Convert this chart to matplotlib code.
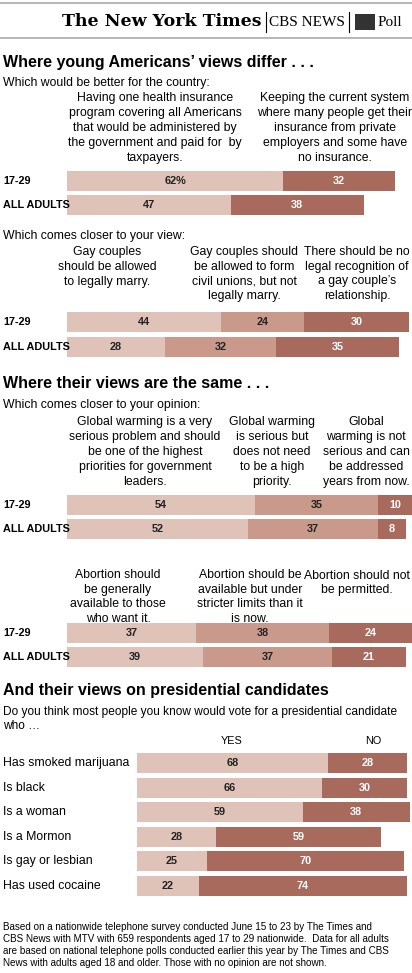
import matplotlib
matplotlib.use("Agg")
import matplotlib.pyplot as plt

LIGHT, MID, DARK = "#dfc3b9", "#c99a8c", "#a86a5c"

groups = ["17-29", "ALL ADULTS"]
health = [[62, 32], [47, 38]]
gay = [[44, 24, 30], [28, 32, 35]]
warming = [[54, 35, 10], [52, 37, 8]]
abortion = [[37, 38, 24], [39, 37, 21]]
cands = ["Has smoked marijuana", "Is black", "Is a woman", "Is a Mormon",
         "Is gay or lesbian", "Has used cocaine"]
yes = [68, 66, 59, 28, 25, 22]
no = [28, 30, 38, 59, 70, 74]

fig = plt.figure(figsize=(4.12, 9.73), dpi=100)
ax = fig.add_axes([0, 0, 1, 1])
ax.set_xlim(0, 412); ax.set_ylim(973, 0); ax.axis("off")
F = "Liberation Sans"
BS = 8.8
LS = 1.32

def txt(x, y, s, size=BS, bold=False, ha="left", color="black", va="center", **kw):
    ax.text(x, y, s, fontsize=size, fontweight="bold" if bold else "normal",
            ha=ha, va=va, color=color, family=F, **kw)

def stacked(y, vals, cols, x0=67, scale=3.49, pct_first=False):
    left = x0
    for i, (v, c) in enumerate(zip(vals, cols)):
        w = v * scale
        ax.barh(y, w, left=left, height=20, color=c, edgecolor="none")
        lab = f"{v}%" if (pct_first and i == 0) else str(v)
        txt(left + w / 2, y, lab, size=7.8, bold=True, ha="center",
            color="white" if c == DARK else "#222222")
        left += w

# header
ax.plot([0, 412], [3, 3], color="#aaaaaa", lw=1.2)
ax.plot([0, 412], [38, 38], color="#aaaaaa", lw=1.2)
ax.text(262, 22, "The New York Times", fontsize=12.5, family="DejaVu Serif",
        fontweight="bold", ha="right", va="center")
ax.text(269, 22, "CBS NEWS", fontsize=11, family="Liberation Serif", ha="left", va="center")
ax.plot([266, 266], [12, 32], color="black", lw=0.8)
ax.plot([349, 349], [12, 32], color="black", lw=0.8)
ax.barh(22, 20, left=355, height=16, color="#333333")
ax.text(378, 22, "Poll", fontsize=11, family="Liberation Serif", ha="left", va="center")

# section 1
txt(3, 62, "Where young Americans\u2019 views differ . . .", size=11.5, bold=True)
txt(3, 83, "Which would be better for the country:")
txt(155, 128, "Having one health insurance\nprogram covering all Americans\nthat would be administered by\nthe government and paid for  by\ntaxpayers.",
    ha="center", linespacing=LS)
txt(335, 128, "Keeping the current system\nwhere many people get their\ninsurance from private\nemployers and some have\nno insurance.",
    ha="center", linespacing=LS)
for g, y, v in zip(groups, [181, 205], health):
    txt(3, y, g, size=7.8, bold=True)
    stacked(y, v, [LIGHT, DARK], pct_first=(g == "17-29"))

txt(3, 236, "Which comes closer to your view:")
txt(107, 267, "Gay couples\nshould be allowed\nto legally marry.", ha="center", linespacing=LS)
txt(244, 274, "Gay couples should\nbe allowed to form\ncivil unions, but not\nlegally marry.", ha="center", linespacing=LS)
txt(357, 274, "There should be no\nlegal recognition of\na gay couple\u2019s\nrelationship.", ha="center", linespacing=LS)
for g, y, v in zip(groups, [322, 347], gay):
    txt(3, y, g, size=7.8, bold=True)
    stacked(y, v, [LIGHT, MID, DARK])

# section 2
txt(3, 383, "Where their views are the same . . .", size=11.5, bold=True)
txt(3, 405, "Which comes closer to your opinion:")
txt(145, 452, "Global warming is a very\nserious problem and should\nbe one of the highest\npriorities for government\nleaders.", ha="center", linespacing=LS)
txt(272, 452, "Global warming\nis serious but\ndoes not need\nto be a high\npriority.", ha="center", linespacing=LS)
txt(366, 452, "Global\nwarming is not\nserious and can\nbe addressed\nyears from now.", ha="center", linespacing=LS)
for g, y, v in zip(groups, [505, 529], warming):
    txt(3, y, g, size=7.8, bold=True)
    stacked(y, v, [LIGHT, MID, DARK])

txt(118, 597, "Abortion should\nbe generally\navailable to those\nwho want it.", ha="center", linespacing=LS)
txt(250, 597, "Abortion should be\navailable but under\nstricter limits than it\nis now.", ha="center", linespacing=LS)
txt(357, 583, "Abortion should not\nbe permitted.", ha="center", linespacing=LS)
for g, y, v in zip(groups, [633, 657], abortion):
    txt(3, y, g, size=7.8, bold=True)
    stacked(y, v, [LIGHT, MID, DARK])

# section 3
txt(3, 690, "And their views on presidential candidates", size=11.5, bold=True)
txt(3, 719, "Do you think most people you know would vote for a presidential candidate\nwho \u2026", size=8.6, linespacing=1.25)
txt(232, 741, "YES", size=7.8, ha="center")
txt(373, 741, "NO", size=7.8, ha="center")
for i, (c, yv, nv) in enumerate(zip(cands, yes, no)):
    y = 763 + i * 24.6
    txt(3, y, c, size=8.8)
    stacked(y, [yv, nv], [LIGHT, DARK], x0=137, scale=2.81)

txt(3, 945, "Based on a nationwide telephone survey conducted June 15 to 23 by The Times and\nCBS News with MTV with 659 respondents aged 17 to 29 nationwide.  Data for all adults\nare based on national telephone polls conducted earlier this year by The Times and CBS\nNews with adults aged 18 and older. Those with no opinion are not shown.",
    size=7.1, linespacing=1.25)

fig.savefig("out.png", dpi=100, facecolor="white")
